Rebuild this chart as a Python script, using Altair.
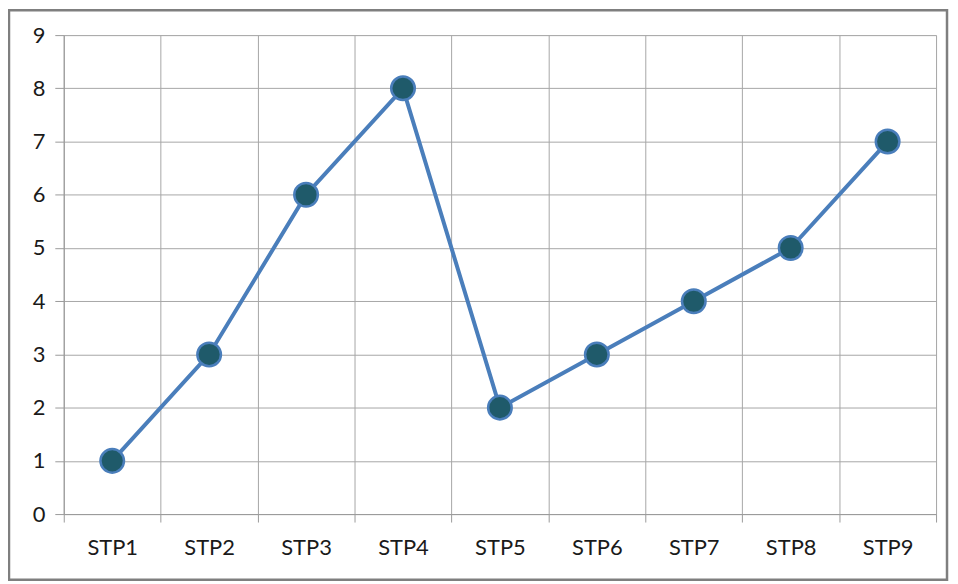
import altair as alt
import pandas as pd

categories = ["STP1", "STP2", "STP3", "STP4", "STP5", "STP6", "STP7", "STP8", "STP9"]
values = [1, 3, 6, 8, 2, 3, 4, 5, 7]
y_ticks = [0, 1, 2, 3, 4, 5, 6, 7, 8, 9]

df = pd.DataFrame({"step": categories, "value": values})

FONT = "Lato"
W, H = 876, 481

x_enc = alt.X(
    "step:N",
    sort=categories,
    title=None,
    scale=alt.Scale(paddingInner=0, paddingOuter=0),
    axis=alt.Axis(
        tickBand="extent",
        labelAngle=0,
        labelFont=FONT,
        labelFontSize=22,
        labelColor="#1a1a1a",
        labelPadding=16,
        tickSize=8,
        tickColor="#9a9a9a",
        domainColor="#9a9a9a",
        gridColor="#a6a6a6",
        grid=True,
    ),
)
y_enc = alt.Y(
    "value:Q",
    title=None,
    scale=alt.Scale(domain=[0, 9], nice=False),
    axis=alt.Axis(
        values=y_ticks,
        format="d",
        labelFont=FONT,
        labelFontSize=22,
        labelColor="#1a1a1a",
        labelPadding=10,
        tickSize=9,
        tickColor="#9a9a9a",
        domainColor="#9a9a9a",
        gridColor="#a6a6a6",
        grid=True,
    ),
)

line = alt.Chart(df).mark_line(color="#4a7ebb", strokeWidth=4).encode(x=x_enc, y=y_enc)
points = alt.Chart(df).mark_point(
    filled=True, shape="circle", size=560, fill="#1f5a6a", stroke="#4a7ebb", strokeWidth=2.5, opacity=1
).encode(x=alt.X("step:N", sort=categories), y="value:Q")

border = alt.Chart(pd.DataFrame({"a": [0]})).mark_rect(
    fill="transparent", stroke="#7f7f7f", strokeWidth=2.5
).encode(
    x=alt.value(-55), x2=alt.value(887), y=alt.value(-25), y2=alt.value(547)
)

chart = alt.layer(border, line, points).properties(
    width=W,
    height=H,
    padding={"left": 56, "top": 26, "right": 14, "bottom": 69},
    autosize=alt.AutoSizeParams(type="none"),
).configure_view(stroke=None).configure(background="white")

chart.save("out.html", embed_options={"renderer": "svg", "actions": False})
